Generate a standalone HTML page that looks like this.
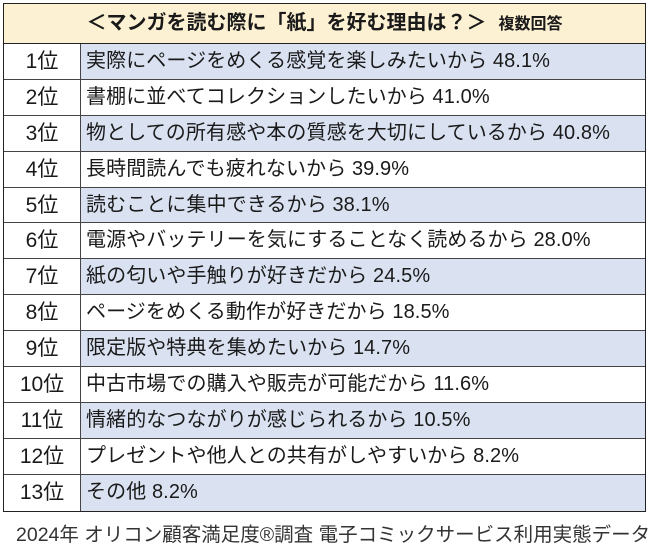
<!DOCTYPE html>
<html><head><meta charset="utf-8">
<style>
body{margin:0;width:650px;height:554px;background:#fff;position:relative;overflow:hidden;font-family:"Liberation Sans","Noto Sans CJK JP",sans-serif;color:#1a1a1a}
#tbl{position:absolute;left:3px;top:3px;width:643px;border:1.5px solid #222;box-sizing:border-box}
.hdr{height:39px;background:#fdf1d3;border-bottom:1.5px solid #222;text-align:center;line-height:39px;font-weight:bold;font-size:20px;white-space:nowrap}
.hdr small{font-size:16px;margin-left:12px}
.row{display:flex;height:35.9px;border-bottom:1px solid #444;box-sizing:border-box}
.row:last-child{border-bottom:none}
.rk{width:76px;border-right:1px solid #444;text-align:center;line-height:35px;font-size:21px}
.tx{flex:1;padding-left:5px;line-height:35px;font-size:20px;letter-spacing:0.1px;white-space:nowrap}
.row.o .tx{background:#dae2f2}
#foot{position:absolute;left:16px;top:518px;font-size:19.5px;color:#333;white-space:nowrap}
</style></head><body>
<div id="tbl">
<div class="hdr">＜マンガを読む際に「紙」を好む理由は？＞<small>複数回答</small></div>
<div class="row o"><div class="rk">1位</div><div class="tx">実際にページをめくる感覚を楽しみたいから 48.1%</div></div>
<div class="row"><div class="rk">2位</div><div class="tx">書棚に並べてコレクションしたいから 41.0%</div></div>
<div class="row o"><div class="rk">3位</div><div class="tx">物としての所有感や本の質感を大切にしているから 40.8%</div></div>
<div class="row"><div class="rk">4位</div><div class="tx">長時間読んでも疲れないから 39.9%</div></div>
<div class="row o"><div class="rk">5位</div><div class="tx">読むことに集中できるから 38.1%</div></div>
<div class="row"><div class="rk">6位</div><div class="tx">電源やバッテリーを気にすることなく読めるから 28.0%</div></div>
<div class="row o"><div class="rk">7位</div><div class="tx">紙の匂いや手触りが好きだから 24.5%</div></div>
<div class="row"><div class="rk">8位</div><div class="tx">ページをめくる動作が好きだから 18.5%</div></div>
<div class="row o"><div class="rk">9位</div><div class="tx">限定版や特典を集めたいから 14.7%</div></div>
<div class="row"><div class="rk">10位</div><div class="tx">中古市場での購入や販売が可能だから 11.6%</div></div>
<div class="row o"><div class="rk">11位</div><div class="tx">情緒的なつながりが感じられるから 10.5%</div></div>
<div class="row"><div class="rk">12位</div><div class="tx">プレゼントや他人との共有がしやすいから 8.2%</div></div>
<div class="row o"><div class="rk">13位</div><div class="tx">その他 8.2%</div></div>
</div>
<div id="foot">2024年 オリコン顧客満足度®調査 電子コミックサービス利用実態データ</div>
</body></html>
